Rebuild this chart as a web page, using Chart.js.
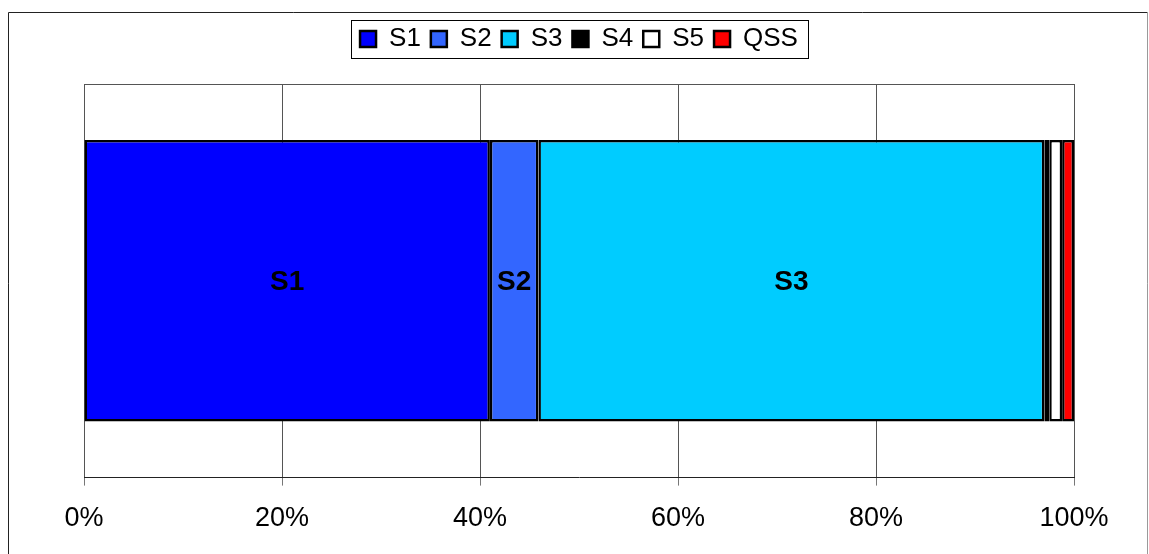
<!DOCTYPE html>
<html>
<head>
<meta charset="utf-8">
<script src="https://cdn.jsdelivr.net/npm/chart.js@4.4.1/dist/chart.umd.min.js"></script>
<style>
  html, body { margin: 0; padding: 0; background: #ffffff; }
  #wrap { width: 1149px; height: 554px; position: relative; }
</style>
</head>
<body>
<div id="wrap"><canvas id="chart" width="1149" height="554"></canvas></div>
<script>
// Shares of each state along a single 100% stacked bar
const categories = [''];
const seriesNames = ['S1', 'S2', 'S3', 'S4', 'S5', 'QSS'];
const shares = [41.0, 4.9, 51.1, 0.5, 1.3, 1.2];
const axisTicks = [0, 20, 40, 60, 80, 100];

const seriesColors = ['#0000FF', '#3366FF', '#00CCFF', '#000000', '#FFFFFF', '#FF0000'];
const FONT = "'Liberation Sans', Arial, sans-serif";

// Extra gap between the legend and the plot area
const legendGap = {
  id: 'legendGap',
  beforeInit(chart) {
    const lg = chart.legend;
    const origFit = lg.fit;
    lg.fit = function () {
      origFit.call(this);
      this.height += 22;
    };
  }
};

// Outer frame, plot-area outline, legend box and in-bar labels
const decorations = {
  id: 'decorations',
  beforeDraw(chart) {
    const c = chart.ctx;
    c.save();
    c.fillStyle = '#ffffff';
    c.fillRect(0, 0, chart.width, chart.height);
    c.lineWidth = 1;
    c.strokeStyle = '#222222';
    c.beginPath();
    c.moveTo(8.5, chart.height + 2);
    c.lineTo(8.5, 12.5);
    c.lineTo(1147.5, 12.5);
    c.stroke();
    c.strokeStyle = '#9a9a9a';
    c.beginPath();
    c.moveTo(1147.5, 12.5);
    c.lineTo(1147.5, chart.height + 2);
    c.stroke();
    c.restore();
  },
  afterDraw(chart) {
    const c = chart.ctx;
    const lg = chart.legend;
    if (lg && lg.legendHitBoxes && lg.legendHitBoxes.length) {
      const boxes = lg.legendHitBoxes;
      const first = boxes[0], last = boxes[boxes.length - 1];
      const cy = first.top + first.height / 2;
      const l = Math.round(first.left - 9) + 0.5;
      const r = Math.round(last.left + last.width + 10) + 0.5;
      const t = Math.round(cy - 19) + 0.5;
      const b = Math.round(cy + 19) + 0.5;
      c.save();
      c.strokeStyle = '#000000';
      c.lineWidth = 1;
      c.strokeRect(l, t, r - l, b - t);
      c.restore();
    }
    const a = chart.chartArea;
    c.save();
    c.strokeStyle = '#555555';
    c.lineWidth = 1;
    c.beginPath();
    c.moveTo(a.left, Math.round(a.top) + 0.5);
    c.lineTo(a.right, Math.round(a.top) + 0.5);
    c.stroke();
    c.restore();
  },
  afterDatasetsDraw(chart) {
    const c = chart.ctx;
    c.save();
    c.font = 'bold 28px ' + FONT;
    c.fillStyle = '#000000';
    c.textAlign = 'center';
    c.textBaseline = 'middle';
    chart.data.datasets.forEach((ds, i) => {
      const meta = chart.getDatasetMeta(i);
      meta.data.forEach(bar => {
        const { x, y, base } = bar.getProps(['x', 'y', 'base'], true);
        const w = Math.abs(x - base);
        const tw = c.measureText(ds.label).width;
        if (w > tw + 4) c.fillText(ds.label, (x + base) / 2, y + 1);
      });
    });
    c.restore();
  }
};

new Chart(document.getElementById('chart'), {
  type: 'bar',
  data: {
    labels: categories,
    datasets: seriesNames.map((name, i) => ({
      label: name,
      data: [shares[i]],
      backgroundColor: seriesColors[i],
      borderColor: '#000000',
      borderWidth: 2.5,
      borderSkipped: false,
      categoryPercentage: 1.0,
      barPercentage: 0.715
    }))
  },
  options: {
    indexAxis: 'y',
    responsive: false,
    animation: false,
    layout: { padding: { left: 84, right: 75, top: 16, bottom: 2 } },
    plugins: {
      tooltip: { enabled: false },
      legend: {
        display: true,
        position: 'top',
        labels: {
          boxWidth: 16,
          boxHeight: 16,
          padding: 10,
          color: '#000000',
          font: { family: FONT, size: 26 }
        }
      }
    },
    scales: {
      x: {
        stacked: true,
        min: 0,
        max: 100,
        afterBuildTicks(axis) { axis.ticks = axisTicks.map(v => ({ value: v })); },
        ticks: {
          color: '#000000',
          font: { family: FONT, size: 27 },
          padding: 17,
          maxRotation: 0,
          callback: v => v + '%'
        },
        grid: {
          color: '#555555',
          lineWidth: 1,
          drawTicks: true,
          tickLength: 8,
          tickColor: '#777777'
        },
        border: { display: true, color: '#222222', width: 1 }
      },
      y: {
        stacked: true,
        display: false
      }
    }
  },
  plugins: [legendGap, decorations]
});
</script>
</body>
</html>
